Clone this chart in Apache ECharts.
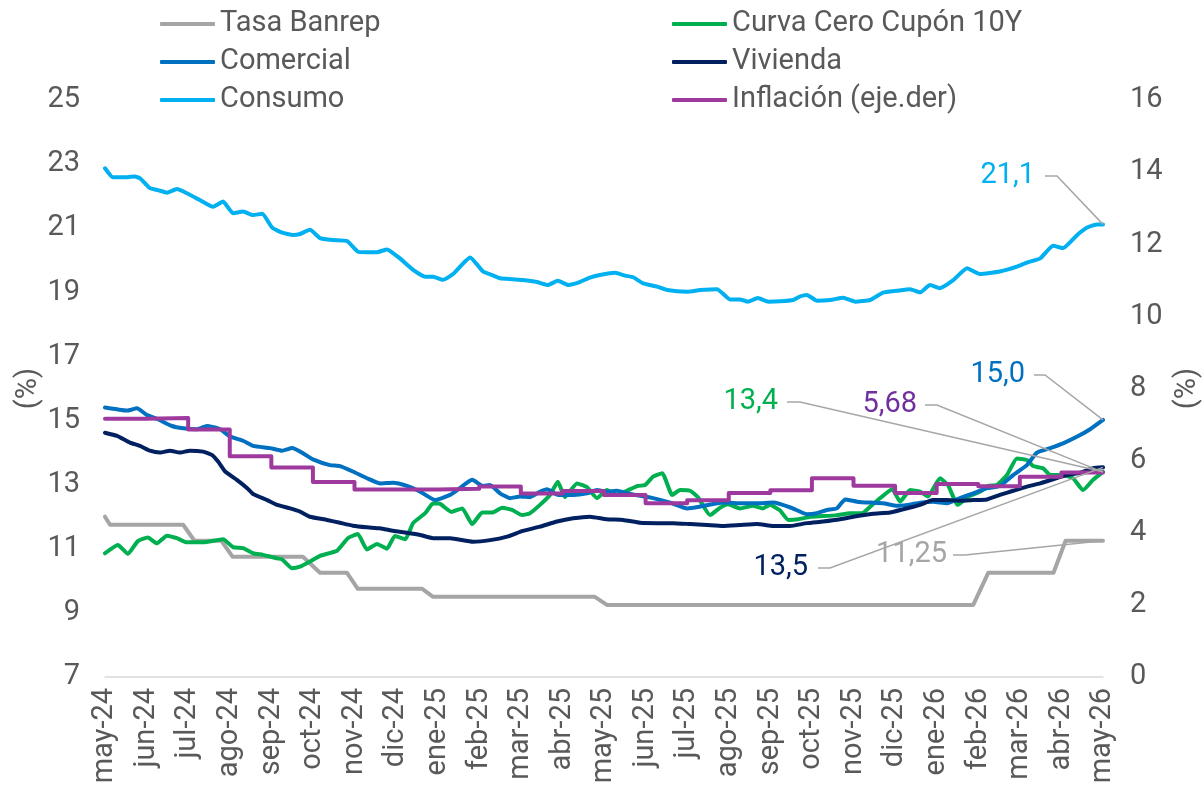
<!DOCTYPE html>
<html>
<head>
<meta charset="utf-8">
<script src="https://cdn.jsdelivr.net/npm/echarts@6/dist/echarts.min.js"></script>
<style>
  html, body { margin: 0; padding: 0; background: #fff; }
  #chart { width: 1204px; height: 795px; }
</style>
</head>
<body>
<div id="chart"></div>
<script>
// x = months since may-24
const months = ['may-24', 'jun-24', 'jul-24', 'ago-24', 'sep-24', 'oct-24', 'nov-24', 'dic-24',
  'ene-25', 'feb-25', 'mar-25', 'abr-25', 'may-25', 'jun-25', 'jul-25', 'ago-25', 'sep-25',
  'oct-25', 'nov-25', 'dic-25', 'ene-26', 'feb-26', 'mar-26', 'abr-26', 'may-26'];

const banrep = [[0, 12.0], [0.12, 11.75], [1.88, 11.75], [2.15, 11.25], [2.8, 11.25], [3.07, 10.75],
  [4.76, 10.75], [5.17, 10.25], [5.82, 10.25], [6.08, 9.75], [7.63, 9.75], [7.89, 9.5], [11.78, 9.5],
  [12.07, 9.25], [20.88, 9.25], [21.24, 10.25], [22.81, 10.25], [23.1, 11.25], [24, 11.25]];

const curvaCero = [[0, 10.86], [0.31, 11.12], [0.55, 10.84], [0.79, 11.24], [1.03, 11.35], [1.25, 11.17],
  [1.49, 11.41], [1.73, 11.33], [1.97, 11.2], [2.36, 11.2], [2.84, 11.3], [3.08, 11.05], [3.32, 11.02],
  [3.56, 10.86], [3.8, 10.81], [4.14, 10.7], [4.26, 10.67], [4.5, 10.39], [4.69, 10.44], [4.93, 10.6],
  [5.17, 10.78], [5.58, 10.94], [5.84, 11.33], [6.08, 11.46], [6.3, 10.98], [6.54, 11.15], [6.78, 11.0],
  [6.97, 11.4], [7.22, 11.3], [7.41, 11.8], [7.7, 12.11], [7.89, 12.42], [8.06, 12.4], [8.33, 12.15],
  [8.59, 12.26], [8.83, 11.77], [9.07, 12.13], [9.31, 12.13], [9.55, 12.28], [9.79, 12.21], [10.03, 12.05],
  [10.22, 12.11], [10.46, 12.37], [10.7, 12.68], [10.89, 13.09], [11.06, 12.61], [11.35, 13.04],
  [11.59, 12.92], [11.83, 12.58], [12.07, 12.83], [12.31, 12.68], [12.58, 12.83], [12.82, 12.96],
  [12.99, 12.99], [13.18, 13.25], [13.4, 13.36], [13.64, 12.68], [13.83, 12.83], [14.07, 12.81],
  [14.26, 12.61], [14.55, 12.05], [14.79, 12.28], [14.98, 12.39], [15.27, 12.26], [15.58, 12.34],
  [15.82, 12.26], [15.99, 12.37], [16.23, 12.2], [16.43, 11.9], [16.67, 11.92], [16.96, 12.0],
  [17.27, 12.02], [17.6, 12.05], [17.92, 12.11], [18.21, 12.11], [18.4, 12.31], [18.64, 12.58],
  [18.93, 12.86], [19.12, 12.47], [19.36, 12.83], [19.6, 12.78], [19.79, 12.63], [20.08, 13.2],
  [20.27, 12.99], [20.51, 12.37], [20.76, 12.63], [21.04, 12.78], [21.24, 12.96], [21.45, 12.99],
  [21.69, 13.3], [21.93, 13.82], [22.17, 13.77], [22.32, 13.58], [22.56, 13.51], [22.73, 13.3],
  [23.04, 13.3], [23.28, 13.2], [23.52, 12.83], [23.76, 13.15], [24, 13.4]];

const comercial = [[0, 15.41], [0.29, 15.35], [0.53, 15.31], [0.77, 15.38], [1.01, 15.17], [1.27, 15.04],
  [1.61, 14.83], [1.88, 14.76], [2.21, 14.73], [2.45, 14.83], [2.77, 14.73], [3.01, 14.5], [3.32, 14.37],
  [3.56, 14.21], [3.97, 14.14], [4.26, 14.06], [4.5, 14.14], [4.76, 13.98], [5.0, 13.79], [5.41, 13.61],
  [5.65, 13.58], [5.96, 13.41], [6.3, 13.2], [6.61, 13.04], [6.93, 13.06], [7.26, 12.96], [7.58, 12.78],
  [7.94, 12.52], [8.3, 12.68], [8.47, 12.83], [8.83, 13.15], [9.09, 12.96], [9.26, 12.99], [9.5, 12.73],
  [9.74, 12.58], [9.98, 12.63], [10.22, 12.61], [10.46, 12.78], [10.63, 12.86], [10.9, 12.68],
  [11.26, 12.68], [11.59, 12.73], [11.83, 12.83], [12.07, 12.78], [12.31, 12.81], [12.55, 12.73],
  [12.87, 12.65], [13.18, 12.58], [13.59, 12.44], [14.0, 12.26], [14.29, 12.31], [14.62, 12.4],
  [14.96, 12.44], [15.27, 12.42], [15.68, 12.42], [16.07, 12.44], [16.5, 12.28], [16.88, 12.08],
  [17.12, 12.11], [17.36, 12.21], [17.6, 12.26], [17.8, 12.54], [18.09, 12.47], [18.4, 12.44],
  [18.71, 12.42], [19.05, 12.34], [19.29, 12.37], [19.6, 12.44], [19.91, 12.47], [20.25, 12.42],
  [20.56, 12.58], [20.88, 12.73], [21.21, 12.89], [21.52, 12.96], [21.84, 13.3], [22.17, 13.61],
  [22.41, 14.0], [22.73, 14.14], [23.04, 14.29], [23.38, 14.5], [23.69, 14.73], [24, 15.02]];

const vivienda = [[0, 14.62], [0.29, 14.52], [0.6, 14.31], [0.84, 14.21], [1.08, 14.06], [1.32, 14.0],
  [1.56, 14.06], [1.8, 14.0], [2.04, 14.06], [2.36, 14.03], [2.57, 13.93], [2.72, 13.72], [2.89, 13.41],
  [3.17, 13.15], [3.42, 12.89], [3.56, 12.71], [3.9, 12.52], [4.14, 12.37], [4.45, 12.26], [4.69, 12.16],
  [4.93, 12.0], [5.34, 11.9], [5.65, 11.81], [5.96, 11.72], [6.3, 11.67], [6.61, 11.64], [6.93, 11.56],
  [7.26, 11.5], [7.58, 11.43], [7.89, 11.33], [8.3, 11.33], [8.85, 11.22], [9.26, 11.27], [9.67, 11.38],
  [10.05, 11.56], [10.46, 11.69], [10.87, 11.85], [11.26, 11.95], [11.66, 12.0], [12.07, 11.92],
  [12.46, 11.9], [12.87, 11.81], [13.28, 11.8], [13.66, 11.8], [14.07, 11.77], [14.48, 11.74],
  [14.86, 11.71], [15.27, 11.74], [15.68, 11.77], [16.07, 11.71], [16.47, 11.71], [16.88, 11.8],
  [17.27, 11.85], [17.68, 11.92], [18.09, 12.02], [18.47, 12.09], [18.88, 12.13], [19.19, 12.23],
  [19.6, 12.37], [19.91, 12.52], [20.25, 12.52], [20.56, 12.5], [20.88, 12.52], [21.21, 12.54],
  [21.52, 12.68], [21.84, 12.81], [22.17, 12.94], [22.49, 13.04], [22.8, 13.17], [23.14, 13.3],
  [23.45, 13.37], [23.76, 13.51], [24, 13.54]];

const consumo = [[0, 22.87], [0.19, 22.59], [0.43, 22.59], [0.72, 22.61], [0.84, 22.56], [1.08, 22.25],
  [1.27, 22.19], [1.49, 22.11], [1.73, 22.22], [1.97, 22.09], [2.28, 21.88], [2.6, 21.67], [2.84, 21.83],
  [3.08, 21.47], [3.32, 21.52], [3.56, 21.41], [3.78, 21.45], [4.02, 21.02], [4.26, 20.86], [4.52, 20.79],
  [4.69, 20.82], [4.93, 20.95], [5.17, 20.69], [5.48, 20.63], [5.82, 20.6], [6.08, 20.27], [6.3, 20.25],
  [6.54, 20.25], [6.78, 20.34], [7.09, 20.06], [7.41, 19.7], [7.7, 19.49], [7.89, 19.49], [8.13, 19.39],
  [8.37, 19.57], [8.78, 20.09], [9.09, 19.65], [9.31, 19.54], [9.5, 19.44], [9.81, 19.41], [10.15, 19.37],
  [10.39, 19.32], [10.65, 19.23], [10.89, 19.36], [11.14, 19.23], [11.38, 19.3], [11.66, 19.46],
  [11.9, 19.54], [12.27, 19.61], [12.51, 19.52], [12.7, 19.47], [12.94, 19.28], [13.28, 19.18],
  [13.52, 19.07], [14.0, 19.02], [14.31, 19.07], [14.72, 19.1], [15.03, 18.78], [15.27, 18.78],
  [15.46, 18.71], [15.7, 18.82], [15.95, 18.71], [16.23, 18.72], [16.55, 18.76], [16.71, 18.87],
  [16.88, 18.92], [17.12, 18.74], [17.44, 18.76], [17.75, 18.83], [18.04, 18.71], [18.4, 18.76],
  [18.71, 18.99], [19.05, 19.05], [19.36, 19.1], [19.6, 19.0], [19.84, 19.23], [20.08, 19.13],
  [20.39, 19.37], [20.73, 19.75], [21.04, 19.57], [21.52, 19.65], [21.93, 19.8], [22.17, 19.93],
  [22.49, 20.06], [22.8, 20.45], [23.04, 20.38], [23.38, 20.79], [23.62, 21.02], [23.86, 21.12], [24, 21.12]];

// monthly, eje derecho
const inflacion = [7.16, 7.18, 6.86, 6.12, 5.81, 5.41, 5.2, 5.2, 5.22, 5.28, 5.09, 5.16, 5.05,
  4.82, 4.9, 5.1, 5.18, 5.51, 5.3, 5.1, 5.35, 5.29, 5.55, 5.67, 5.68];

const textColor = '#595959';
const font = 'Roboto';

function lineSeries(name, data, color, extra) {
  return Object.assign({
    name,
    type: 'line',
    data,
    symbol: 'none',
    showSymbol: false,
    smooth: 0.15,
    lineStyle: { color, width: 4, cap: 'round', join: 'round' },
    itemStyle: { color },
  }, extra || {});
}

const series = [
  lineSeries('Tasa Banrep', banrep, '#a5a5a5', { smooth: false }),
  lineSeries('Curva Cero Cupón 10Y', curvaCero, '#00b050'),
  lineSeries('Comercial', comercial, '#0070c0'),
  lineSeries('Vivienda', vivienda, '#002060'),
  lineSeries('Consumo', consumo, '#00b0f0'),
  lineSeries('Inflación (eje.der)', inflacion.map((v, i) => [i, v]), '#9e3a9e',
    { yAxisIndex: 1, step: 'end', smooth: false }),
];

function legend(left, names) {
  return {
    left, top: 9, orient: 'vertical', padding: 0, itemGap: 8,
    itemWidth: 55, itemHeight: 4, icon: 'roundRect',
    data: names,
    textStyle: { fontSize: 29, color: textColor, fontFamily: font, lineHeight: 30, padding: [0, 0, 0, 0] },
  };
}

const chart = echarts.init(document.getElementById('chart'));
chart.setOption({
  animation: false,
  textStyle: { fontFamily: font },
  legend: [
    legend(160, ['Tasa Banrep', 'Comercial', 'Consumo']),
    legend(672, ['Curva Cero Cupón 10Y', 'Vivienda', 'Inflación (eje.der)']),
  ],
  grid: { left: 105, right: 101, top: 100, bottom: 118, containLabel: false, outerBoundsMode: 'none' },
  xAxis: {
    type: 'value', min: 0, max: 24, interval: 1,
    axisLine: { lineStyle: { color: '#d9d9d9', width: 1.5 } },
    axisTick: { show: false },
    splitLine: { show: false },
    axisLabel: {
      rotate: 90, margin: 11, fontSize: 29, color: textColor,
      showMinLabel: true, showMaxLabel: true,
      formatter: (v) => months[v] || '',
    },
  },
  yAxis: [
    {
      type: 'value', min: 7, max: 25, interval: 2, position: 'left',
      axisLine: { show: false }, axisTick: { show: false }, splitLine: { show: false },
      axisLabel: { fontSize: 29, color: textColor, margin: 25 },
      name: '(%)', nameLocation: 'middle', nameRotate: 90, nameGap: 62, nameMoveOverlap: false,
      nameTextStyle: { fontSize: 29, color: textColor },
    },
    {
      type: 'value', min: 0, max: 16, interval: 2, position: 'right',
      axisLine: { show: false }, axisTick: { show: false }, splitLine: { show: false },
      axisLabel: { fontSize: 29, color: textColor, margin: 27 },
      name: '(%)', nameLocation: 'middle', nameRotate: 90, nameGap: 70, nameMoveOverlap: false,
      nameTextStyle: { fontSize: 29, color: textColor },
    },
  ],
  series,
});

// end-value callouts with gray leader lines
const notes = [
  { s: 4, digits: 1, color: '#00b0f0', right: 1035, y: 176, start: 1045, elbow: 1057 },
  { s: 2, digits: 1, color: '#0070c0', right: 1025, y: 375, start: 1034, elbow: 1045 },
  { s: 5, digits: 2, color: '#7030a0', right: 917, y: 405, start: 925, elbow: 937 },
  { s: 1, digits: 1, color: '#00b050', right: 778, y: 402, start: 787, elbow: 800 },
  { s: 3, digits: 1, color: '#002060', right: 808, y: 568, start: 818, elbow: 830 },
  { s: 0, digits: 2, color: '#a5a5a5', right: 947, y: 555, start: 953, elbow: 965 },
];

const graphics = [];
notes.forEach((n) => {
  const data = series[n.s].data;
  const last = data[data.length - 1];
  const pt = chart.convertToPixel({ seriesIndex: n.s }, last);
  graphics.push({
    type: 'polyline', z: 100, silent: true,
    shape: { points: [[n.start, n.y], [n.elbow, n.y], pt] },
    style: { stroke: '#a6a6a6', lineWidth: 1.5, fill: null },
  });
  graphics.push({
    type: 'text', z: 100, silent: true, x: n.right, y: n.y,
    style: {
      text: last[1].toFixed(n.digits).replace('.', ','),
      fill: n.color, font: '29px Roboto',
      textAlign: 'right', textVerticalAlign: 'middle', align: 'right', verticalAlign: 'middle',
    },
  });
});
chart.setOption({ graphic: graphics });
</script>
</body>
</html>
